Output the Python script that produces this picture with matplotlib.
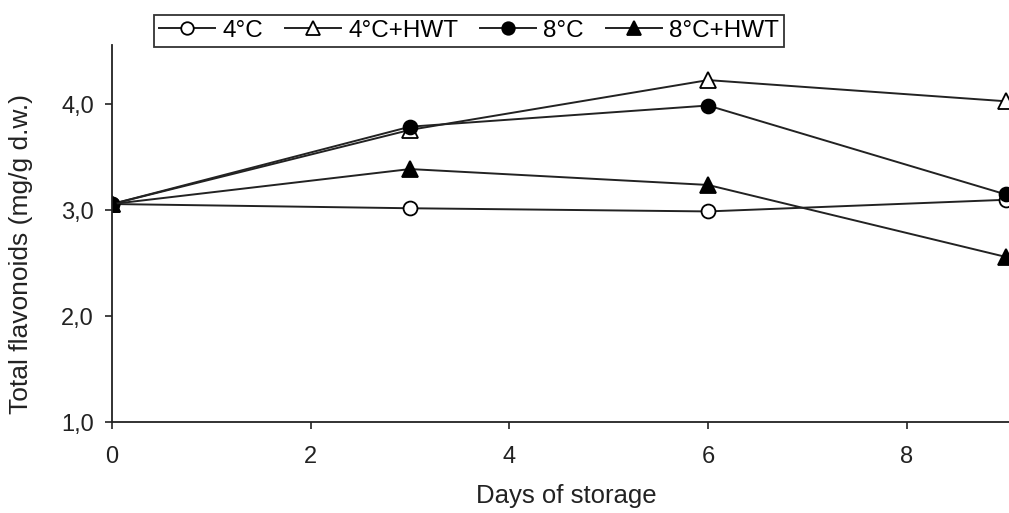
import numpy as np
import matplotlib.pyplot as plt
from matplotlib.ticker import FuncFormatter

plt.rcParams['font.family'] = ['Liberation Sans', 'DejaVu Sans']

days = [0, 3, 6, 9]
c4 = [3.06, 3.02, 2.99, 3.10]
c4_hwt = [3.06, 3.76, 4.23, 4.03]
c8 = [3.06, 3.79, 3.99, 3.15]
c8_hwt = [3.06, 3.39, 3.24, 2.56]

labels = ['4°C', '4°C+HWT', '8°C', '8°C+HWT']
markers = ['o', '^', 'o', '^']
faces = ['white', 'white', 'black', 'black']

fig = plt.figure(figsize=(10.09, 5.13), dpi=100)
ax = fig.add_axes([0.111, 0.177, 0.889, 0.735])

for y, lab, m, fc in zip([c4, c4_hwt, c8, c8_hwt], labels, markers, faces):
    ax.plot(days, y, color='#222222', lw=1.4, marker=m, ms=10 if m == 'o' else 11,
            mfc=fc, mec='black', mew=1.3, label=lab)

ax.set_xlim(0, 9.03)
ax.set_ylim(1.0, 4.56)
ax.set_xticks([0, 2, 4, 6, 8])
ax.set_yticks([1.0, 2.0, 3.0, 4.0])
ax.yaxis.set_major_formatter(FuncFormatter(lambda v, p: f'{v:.1f}'.replace('.', ',')))
ax.spines['top'].set_visible(False)
ax.spines['right'].set_visible(False)
for s in ['left', 'bottom']:
    ax.spines[s].set_linewidth(1.3)
    ax.spines[s].set_color('#222222')
ax.tick_params(direction='out', length=5, width=1.2, labelsize=17, colors='#222222')
ax.tick_params(axis='x', pad=12)
ax.tick_params(axis='y', pad=8)
ax.set_xlabel('Days of storage', fontsize=18.5, color='#222222')
ax.set_ylabel('Total flavonoids (mg/g d.w.)', fontsize=19, color='#222222')
ax.xaxis.set_label_coords(0.506, -0.165)
ax.yaxis.set_label_coords(-0.088, 0.445)

leg = fig.legend(loc='center', bbox_to_anchor=(0.465, 0.94), ncol=4, fontsize=17.5,
                 frameon=True, fancybox=False, edgecolor='black', handlelength=2.3,
                 handletextpad=0.3, columnspacing=0.9, borderpad=0.2, markerscale=0.9)
leg.get_frame().set_linewidth(1.3)

fig.savefig('out.png', dpi=100)
